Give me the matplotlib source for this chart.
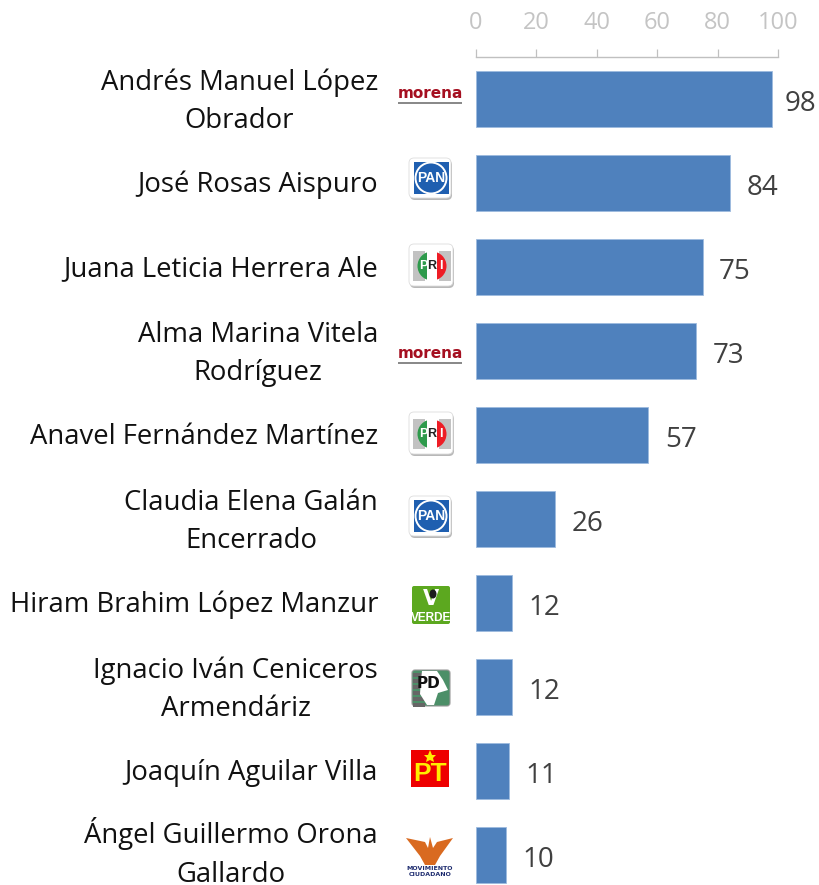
import matplotlib
matplotlib.use("Agg")
import matplotlib.pyplot as plt
from matplotlib.patches import Rectangle, FancyBboxPatch, Circle, Wedge, Polygon, Ellipse

names = ["Andrés Manuel López\nObrador", "José Rosas Aispuro", "Juana Leticia Herrera Ale",
         "Alma Marina Vitela\nRodríguez", "Anavel Fernández Martínez", "Claudia Elena Galán\nEncerrado",
         "Hiram Brahim López Manzur", "Ignacio Iván Ceniceros\nArmendáriz", "Joaquín Aguilar Villa",
         "Ángel Guillermo Orona\nGallardo"]
values = [98, 84, 75, 73, 57, 26, 12, 12, 11, 10]
parties = ["morena", "PAN", "PRI", "morena", "PRI", "PAN", "VERDE", "PD", "PT", "MC"]
ticks = [0, 20, 40, 60, 80, 100]

W, H = 819, 885
FONT = "Open Sans"
NARROW = ["Liberation Sans Narrow", "Liberation Sans", "DejaVu Sans"]
plt.rcParams["font.family"] = [FONT, "DejaVu Sans"]
fig = plt.figure(figsize=(W / 100, H / 100), dpi=100, facecolor="white")

left, right, top, bottom = 476, 778, 57, 885
ax = fig.add_axes([left / W, 1 - bottom / H, (right - left) / W, (bottom - top) / H])
ax.set_xlim(0, 100)
ax.set_ylim((bottom - 99) / 84, (top - 99) / 84)
ypos = list(range(len(values)))
ax.barh(ypos, values, height=56 / 84, color="#4f81bd", edgecolor="#9dbbdf", linewidth=0.6, zorder=2)
for s in ["right", "bottom", "left"]:
    ax.spines[s].set_visible(False)
ax.spines["top"].set_color("#c0c0c0")
ax.spines["top"].set_linewidth(1.0)
ax.xaxis.tick_top()
ax.set_xticks(ticks)
ax.set_xticklabels([str(t) for t in ticks], fontsize=17, color="#c4c4c4")
ax.tick_params(axis="x", direction="out", length=6, width=0.9, color="#c0c0c0", pad=9.5)
ax.set_yticks([])

for y, v, n in zip(ypos, values, names):
    off = 9 if v == 98 else 12
    ax.annotate(str(v), (v, y), xytext=(off, -3.3), textcoords="offset points", ha="left", va="center",
                fontsize=20, color="#404040", annotation_clip=False)
    dy = 1.5 if n.startswith("Á") else (-1.5 if "\n" not in n else -2)
    ax.annotate(n, (0, y), xytext=(-98 * 0.72, dy), textcoords="offset points",
                ha="right", va="center", multialignment="center",
                fontsize=19.8, color="#111111", linespacing=1.5, annotation_clip=False)

# overlay in pixel coordinates for the party logos
ov = fig.add_axes([0, 0, 1, 1], facecolor="none")
ov.set_xlim(0, W)
ov.set_ylim(H, 0)
ov.axis("off")


def frame(cx, cy, w=44, h=42):
    ov.add_patch(FancyBboxPatch((cx - w / 2 + 1, cy - h / 2 + 2), w - 2, h - 2, boxstyle="round,pad=0,rounding_size=5",
                                fc="#b8b8b8", ec="none", zorder=3))
    ov.add_patch(FancyBboxPatch((cx - w / 2, cy - h / 2), w - 2, h - 2, boxstyle="round,pad=0,rounding_size=5",
                                fc="white", ec="#dddddd", lw=0.6, zorder=3))


def morena(cx, cy):
    ov.text(cx, cy - 1, "morena", ha="center", va="center", fontsize=11, fontweight="bold",
            family="DejaVu Sans", color="#a50f20", zorder=4)
    ov.add_patch(Rectangle((cx - 32, cy + 7), 64, 2, fc="#8a8a8a", ec="none", zorder=4))


def pan(cx, cy):
    frame(cx + 1, cy)
    ov.add_patch(Rectangle((cx - 16.5, cy - 17), 35, 32, fc="#1f5fb0", ec="none", zorder=4))
    ov.add_patch(Circle((cx + 1, cy - 1), 15.5, fc="none", ec="white", lw=1.4, zorder=5))
    ov.text(cx + 1, cy - 1, "PAN", ha="center", va="center", fontsize=10, fontweight="bold",
            family=NARROW, color="white", zorder=6)


def pri(cx, cy):
    frame(cx + 1, cy, 46, 44)
    ov.add_patch(Rectangle((cx - 18, cy - 15), 12, 30, fc="#c2c2c2", ec="none", zorder=4))
    ov.add_patch(Rectangle((cx + 8, cy - 15), 12, 30, fc="#c2c2c2", ec="none", zorder=4))
    ov.add_patch(Wedge((cx + 1, cy), 14.5, 90, 270, fc="#2e9a4c", ec="none", zorder=5))
    ov.add_patch(Wedge((cx + 1, cy), 14.5, 270, 90, fc="#ee1c25", ec="none", zorder=5))
    ov.add_patch(Rectangle((cx - 4, cy - 15), 10, 30, fc="white", ec="none", zorder=5))
    for dx, s, c in [(-8, "P", "white"), (1, "R", "#222222"), (10, "I", "white")]:
        ov.text(cx + dx, cy, s, ha="center", va="center", fontsize=9, fontweight="bold",
                family=NARROW, color=c, zorder=6)


def verde(cx, cy):
    ov.add_patch(FancyBboxPatch((cx - 19, cy - 19), 38, 38, boxstyle="round,pad=0,rounding_size=2",
                                fc="#5ca81f", ec="none", zorder=3))
    ov.text(cx, cy - 6, "V", ha="center", va="center", fontsize=15, fontweight="bold",
            family="DejaVu Sans", color="white", zorder=4)
    ov.add_patch(Ellipse((cx + 2, cy - 11), 7, 9, fc="#1c1c1c", ec="none", zorder=5))
    ov.text(cx, cy + 13, "VERDE", ha="center", va="center", fontsize=8.5, fontweight="bold",
            family=NARROW, color="white", zorder=4)


def pd_logo(cx, cy):
    ov.add_patch(FancyBboxPatch((cx - 19, cy - 18), 38, 36, boxstyle="round,pad=0,rounding_size=3",
                                fc="#4c8f68", ec="#999999", lw=0.8, zorder=3))
    for k in range(6):
        ov.add_patch(Rectangle((cx - 18, cy - 15 + k * 6), 12, 3.5, fc="#666666", ec="none", zorder=4))
    ov.add_patch(Polygon([(cx - 9, cy - 17), (cx + 6, cy - 17), (cx + 12, cy - 8), (cx + 17, cy + 2), (cx + 7, cy + 5),
                          (cx + 3, cy + 17), (cx - 4, cy + 17), (cx - 11, cy + 6), (cx - 10, cy - 8)],
                         fc="white", ec="none", zorder=4))
    ov.text(cx - 2, cy - 4, "PD", ha="center", va="center", fontsize=11, fontweight="bold",
            family="DejaVu Sans", color="#111111", zorder=5)


def pt(cx, cy):
    ov.add_patch(Rectangle((cx - 19, cy - 18.5), 37.5, 37.5, fc="#ee0000", ec="none", zorder=3))
    ov.text(cx, cy + 6, "PT", ha="center", va="center", fontsize=19, fontweight="bold",
            family=NARROW, color="#ffee00", zorder=4)
    ov.add_patch(Polygon([(cx, cy - 18), (cx + 2, cy - 13), (cx + 6, cy - 13), (cx + 3, cy - 10), (cx + 4, cy - 6),
                          (cx, cy - 8), (cx - 4, cy - 6), (cx - 3, cy - 10), (cx - 6, cy - 13), (cx - 2, cy - 13)],
                         fc="#ffee00", ec="none", zorder=4))


def mc(cx, cy):
    ov.add_patch(Polygon([(cx - 24, cy - 20), (cx - 5, cy - 16), (cx - 2, cy - 10), (cx, cy - 21), (cx + 3, cy - 10),
                          (cx + 7, cy - 16), (cx + 23, cy - 20), (cx + 10, cy - 2), (cx + 5, cy + 7),
                          (cx - 5, cy + 7), (cx - 10, cy - 2)],
                         fc="#d96a20", ec="none", zorder=3))
    ov.text(cx, cy + 11, "MOVIMIENTO", ha="center", va="center", fontsize=4.5, fontweight="bold",
            family="DejaVu Sans", color="#1c2a6e", zorder=4)
    ov.text(cx, cy + 17, "CIUDADANO", ha="center", va="center", fontsize=4.5, fontweight="bold",
            family="DejaVu Sans", color="#1c2a6e", zorder=4)


logo_x = {"morena": 430, "PAN": 430, "PRI": 431, "VERDE": 431, "PD": 431, "PT": 430, "MC": 430}
logo_dy = {0: -4, 1: -4, 2: -1, 3: 4, 4: -1, 5: -2, 6: 2, 7: 1, 8: -3, 9: 3}
draw = {"morena": morena, "PAN": pan, "PRI": pri, "VERDE": verde, "PD": pd_logo, "PT": pt, "MC": mc}
for i, p in enumerate(parties):
    draw[p](logo_x[p], 99 + 84 * i + logo_dy[i])

fig.savefig("out.png", dpi=100)
